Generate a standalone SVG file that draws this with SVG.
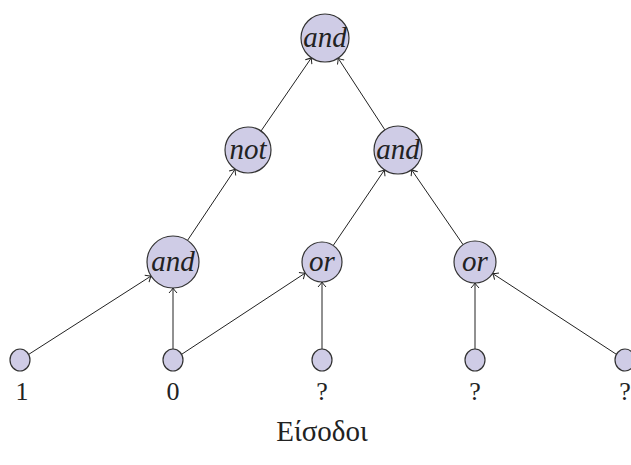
<svg xmlns="http://www.w3.org/2000/svg" width="631" height="465" viewBox="0 0 631 465">
  <style>
    .gate { fill: #cfcce6; stroke: #333; stroke-width: 1.2; }
    .inp { fill: #cfcce6; stroke: #333; stroke-width: 1.2; }
    .op { font-family: "Liberation Serif", "DejaVu Serif", serif; font-style: italic; font-size: 29px; fill: #222; text-anchor: middle; }
    .lbl { font-family: "Liberation Serif", "DejaVu Serif", serif; font-size: 26px; fill: #222; text-anchor: middle; }
    .cap { font-family: "Liberation Serif", "DejaVu Serif", serif; font-size: 29px; fill: #222; text-anchor: middle; }
    .edge { stroke: #222; stroke-width: 1; fill: none; marker-end: url(#tip); }
  </style>
  <defs>
    <marker id="tip" viewBox="-6 -5 7 10" markerWidth="7" markerHeight="10" refX="0" refY="0" orient="auto" markerUnits="userSpaceOnUse">
      <path d="M -5 -4 Q -1.5 -0.8 0 0 Q -1.5 0.8 -5 4" fill="none" stroke="#222" stroke-width="1"/>
    </marker>
  </defs>

  <g id="connectors">
    <line class="edge" x1="261.0" y1="131.0" x2="311.4" y2="57.8"/>
    <line class="edge" x1="384.9" y1="129.9" x2="338.1" y2="58.1"/>
    <line class="edge" x1="187.5" y1="240.4" x2="235.2" y2="169.1"/>
    <line class="edge" x1="333.2" y1="245.5" x2="384.5" y2="169.9"/>
    <line class="edge" x1="463.1" y1="244.7" x2="411.6" y2="169.8"/>
    <line class="edge" x1="28.8" y1="354.3" x2="151.1" y2="276.0"/>
    <line class="edge" x1="173" y1="349" x2="173" y2="288"/>
    <line class="edge" x1="181.8" y1="354.2" x2="305.3" y2="273.0"/>
    <line class="edge" x1="322" y1="349" x2="322" y2="282"/>
    <line class="edge" x1="475" y1="349" x2="475" y2="283"/>
    <line class="edge" x1="616.2" y1="354.2" x2="492.6" y2="273.5"/>
  </g>

  <g id="g-and-top">
    <circle class="gate" cx="325" cy="38" r="24"/>
    <text class="op" x="325" y="47">and</text>
  </g>
  <g id="g-not">
    <circle class="gate" cx="248" cy="150" r="23"/>
    <text class="op" x="248" y="159">not</text>
  </g>
  <g id="g-and-right">
    <circle class="gate" cx="398" cy="150" r="24"/>
    <text class="op" x="398" y="159">and</text>
  </g>
  <g id="g-and-left">
    <circle class="gate" cx="173" cy="262" r="26"/>
    <text class="op" x="173" y="271">and</text>
  </g>
  <g id="g-or-mid">
    <circle class="gate" cx="322" cy="262" r="20"/>
    <text class="op" x="322" y="271">or</text>
  </g>
  <g id="g-or-right">
    <circle class="gate" cx="475" cy="262" r="21"/>
    <text class="op" x="475" y="271">or</text>
  </g>

  <g id="in-1">
    <ellipse class="inp" cx="20" cy="360" rx="10" ry="11"/>
    <text class="lbl" x="22" y="400">1</text>
  </g>
  <g id="in-2">
    <ellipse class="inp" cx="173" cy="360" rx="10" ry="11"/>
    <text class="lbl" x="173" y="400">0</text>
  </g>
  <g id="in-3">
    <ellipse class="inp" cx="322" cy="360" rx="10" ry="11"/>
    <text class="lbl" x="322" y="400">?</text>
  </g>
  <g id="in-4">
    <ellipse class="inp" cx="475" cy="360" rx="10" ry="11"/>
    <text class="lbl" x="475" y="400">?</text>
  </g>
  <g id="in-5">
    <ellipse class="inp" cx="625" cy="360" rx="10" ry="11"/>
    <text class="lbl" x="625" y="400">?</text>
  </g>

  <text id="inputs-caption" class="cap" x="322" y="441">Είσοδοι</text>
</svg>
